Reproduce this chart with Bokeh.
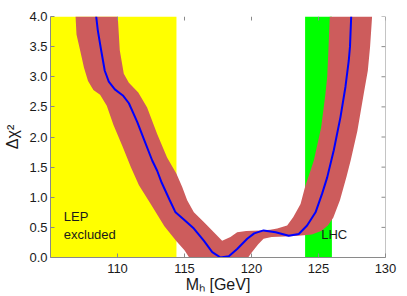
from math import pi
from bokeh.plotting import figure
from bokeh.models import Range1d, LinearAxis, FixedTicker, Label, Span, PrintfTickFormatter
from bokeh.embed import file_html
from bokeh.resources import INLINE

# ---------------- data ----------------
lep_excluded = [105.0, 114.4]     # GeV
lhc_window = [124.0, 126.0]       # GeV

curve_mh = [108.41, 108.53, 108.78, 109.05, 109.35, 109.8, 110.4, 110.85, 111.47, 111.96,
            112.59, 112.96, 113.3, 113.9, 114.33, 114.95, 115.7, 116.44, 117.07, 117.69,
            118.31, 118.93, 119.68, 120.2, 120.9, 121.8, 122.78, 123.53, 124.15, 124.78,
            125.27, 125.65, 126.14, 126.64, 127.01, 127.26, 127.35, 127.44]
curve_dchi2 = [4.0, 3.77, 3.44, 3.10, 2.92, 2.79, 2.69, 2.56, 2.25, 1.97,
               1.61, 1.44, 1.24, 0.95, 0.75, 0.63, 0.48, 0.28, 0.09, 0.0,
               0.02, 0.14, 0.31, 0.40, 0.45, 0.42, 0.36, 0.39, 0.53, 0.75,
               1.06, 1.33, 1.78, 2.33, 2.83, 3.27, 3.5, 4.0]

# theory band: lower envelope (left arm, top -> bottom)
band_low_left_mh = [106.87, 106.94, 107.25, 107.5, 107.8, 108.2, 108.7, 109.2, 109.7, 110.4,
                    111.0, 111.6, 112.5, 113.5, 114.4, 115.0, 115.35]
band_low_left_dchi2 = [4.0, 3.7, 3.4, 3.15, 2.93, 2.78, 2.70, 2.52, 2.2, 1.83,
                       1.5, 1.2, 0.88, 0.52, 0.27, 0.12, 0.0]
# lower envelope (right arm, bottom -> top)
band_low_right_mh = [119.75, 120.0, 120.5, 120.9, 121.5, 122.5, 123.5, 124.5, 125.2, 125.7,
                     126.1, 126.6, 127.1, 127.4, 127.9, 128.38, 128.68, 128.85, 129.0]
band_low_right_dchi2 = [0.0, 0.08, 0.22, 0.31, 0.34, 0.35, 0.36, 0.38, 0.44, 0.53,
                        0.66, 0.95, 1.35, 1.61, 2.1, 2.72, 3.1, 3.5, 4.0]
# upper envelope (right top -> left top)
band_up_mh = [125.84, 125.75, 125.65, 125.52, 125.2, 124.65, 124.4, 124.03, 123.66, 123.11,
              122.66, 121.92, 121.4, 120.67, 119.6, 118.93, 118.43, 117.81, 117.19, 116.44,
              115.7, 115.2, 114.83, 114.4, 113.7, 112.96, 112.21, 111.55, 110.85, 110.47,
              110.17, 110.02]
band_up_dchi2 = [4.0, 3.5, 3.0, 2.72, 2.16, 1.61, 1.44, 1.20, 0.89, 0.67,
                 0.53, 0.48, 0.46, 0.45, 0.44, 0.42, 0.34, 0.28, 0.42, 0.59,
                 0.75, 0.95, 1.17, 1.39, 1.66, 2.05, 2.49, 2.74, 2.9, 3.05,
                 3.44, 4.0]

x_ticks = [110, 115, 120, 125, 130]
y_ticks = [0.0, 0.5, 1.0, 1.5, 2.0, 2.5, 3.0, 3.5, 4.0]
x_range = (105, 130)
y_range = (0, 4)
x_title = "M\u2095 [GeV]"
y_title = "Δχ²"

FONT = "Liberation Sans"
AXIS_COL = "#8a8a8a"
TXT_COL = "#1a1a1a"

p = figure(width=407, height=296, output_backend="svg", toolbar_location=None,
           x_range=Range1d(*x_range), y_range=Range1d(*y_range),
           min_border_left=50, min_border_right=22, min_border_top=16, min_border_bottom=39,
           x_axis_location=None, y_axis_location=None)
p.background_fill_color = "white"
p.border_fill_color = "white"
p.outline_line_color = None
p.xgrid.visible = False
p.ygrid.visible = False

# shaded regions
p.quad(left=[lep_excluded[0]], right=[lep_excluded[1]], bottom=[y_range[0]], top=[y_range[1]],
       fill_color="#ffff00", line_color=None)
p.quad(left=[lhc_window[0]], right=[lhc_window[1]], bottom=[y_range[0]], top=[y_range[1]],
       fill_color="#00ff00", line_color=None)

# band
band_x = band_low_left_mh + band_low_right_mh + band_up_mh
band_y = band_low_left_dchi2 + band_low_right_dchi2 + band_up_dchi2
p.patch(band_x, band_y, fill_color="#cd5c5c", line_color=None)

# central curve
p.line(curve_mh, curve_dchi2, line_color="#0000ff", line_width=2)

# axes (bottom / left with labels, ticks inward)
xb = LinearAxis(ticker=FixedTicker(ticks=x_ticks), axis_label=x_title)
yl = LinearAxis(ticker=FixedTicker(ticks=y_ticks), formatter=PrintfTickFormatter(format="%.1f"),
                axis_label=y_title)
for ax in (xb, yl):
    ax.major_tick_in = 4
    ax.major_tick_out = 0
    ax.minor_tick_in = 0
    ax.minor_tick_out = 0
    ax.major_tick_line_color = AXIS_COL
    ax.axis_line_color = AXIS_COL
    ax.major_label_text_font = FONT
    ax.major_label_text_font_size = "13px"
    ax.major_label_text_color = TXT_COL
    ax.axis_label_text_font = FONT
    ax.axis_label_text_font_size = "16px"
    ax.axis_label_text_font_style = "normal"
    ax.axis_label_text_color = TXT_COL
xb.major_label_standoff = 6
xb.axis_label_standoff = 0
yl.major_label_standoff = 3
yl.axis_label_standoff = 5
p.add_layout(xb, "below")
p.add_layout(yl, "left")

# top / right ticks (inward) and right frame line
p.ray(x=x_ticks, y=[y_range[1]] * len(x_ticks), length=4, length_units="screen",
      angle=-pi / 2, line_color=AXIS_COL, line_width=1)
p.ray(x=[x_range[1]] * len(y_ticks), y=y_ticks, length=4, length_units="screen",
      angle=pi, line_color=AXIS_COL, line_width=1)
p.add_layout(Span(location=x_range[1], dimension="height", line_color=AXIS_COL, line_width=1))


# texts inside the frame
def lab(x, y, t, size, **kw):
    p.add_layout(Label(x=x, y=y, text=t, text_font=FONT, text_font_size=size,
                       text_color=TXT_COL, **kw))


lab(105.99, 0.548, "LEP", "13px")
lab(105.99, 0.254, "excluded", "13px")
lab(125.2, 0.254, "LHC", "13px")

open("out.html", "w").write(file_html(p, INLINE))
